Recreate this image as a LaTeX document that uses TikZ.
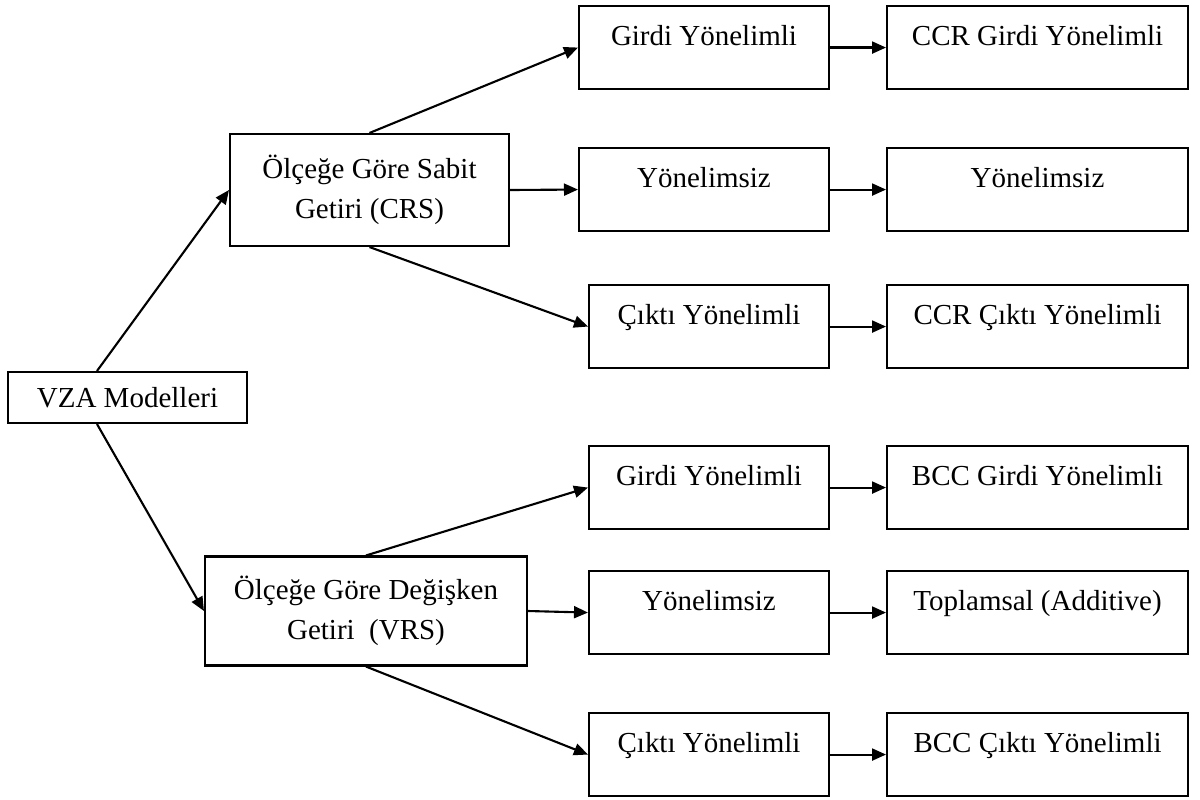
\documentclass[tikz,border=0pt]{standalone}
\usepackage{fontspec}
\setmainfont{Liberation Serif}
\usetikzlibrary{arrows.meta,positioning}
\tikzset{
  rootbox/.style={rectangle, draw=black, line width=1.2pt, align=center, inner sep=0pt, minimum width=4.78cm, minimum height=1.02cm},
  groupbox/.style={rectangle, draw=black, line width=1.2pt, align=center, inner sep=0pt},
  kindbox/.style={rectangle, draw=black, line width=1.2pt, align=flush center, inner sep=0pt, text width=4.8cm, text height=0.78cm, text depth=0.88cm, anchor=north},
  modelbox/.style={kindbox, text width=6.02cm},
  linkarrow/.style={-{Triangle[length=0.28cm,width=0.24cm]}, line width=1.2pt}
}
\begin{document}
\begin{tikzpicture}[x=0.02cm, y=-0.02cm, node distance=1.12cm, font=\fontsize{16.5}{22.8}\selectfont]
\useasboundingbox (0,0) rectangle (1200,799);
\node[rootbox] (vza) at (127.5,397.5) {VZA Modelleri};
\node[groupbox, minimum width=5.58cm, minimum height=2.24cm] (crs) at (369.5,190) {Ölçeğe Göre Sabit\\Getiri (CRS)};
\node[groupbox, minimum width=6.44cm, minimum height=2.18cm] (vrs) at (366,611) {Ölçeğe Göre Değişken\\Getiri\ \ (VRS)};
% orientation boxes
\node[kindbox, text width=5cm] (crsin) at (704,5) {Girdi Yönelimli};
\node[kindbox, text width=5cm] (crsno) at (704,147) {Yönelimsiz};
\node[kindbox] (crsout) at (709,284) {Çıktı Yönelimli};
\node[kindbox] (vrsin) at (709,445) {Girdi Yönelimli};
\node[kindbox] (vrsno) at (709,570) {Yönelimsiz};
\node[kindbox] (vrsout) at (709,712) {Çıktı Yönelimli};
% model boxes
\node[modelbox, right=of crsin] (ccrin) {CCR Girdi Yönelimli};
\node[modelbox, right=of crsno] (crsnomod) {Yönelimsiz};
\node[modelbox, right=of crsout] (ccrout) {CCR Çıktı Yönelimli};
\node[modelbox, right=of vrsin] (bccin) {BCC Girdi Yönelimli};
\node[modelbox, right=of vrsno] (additive) {Toplamsal (Additive)};
\node[modelbox, right=of vrsout] (bccout) {BCC Çıktı Yönelimli};
\draw[linkarrow] ([xshift=-0.61cm]vza.north) -- (crs.west);
\draw[linkarrow] ([xshift=-0.61cm]vza.south) -- (vrs.west);
\draw[linkarrow] (crs.north) -- (crsin.west);
\draw[linkarrow] (crs.east) -- (crsno.west);
\draw[linkarrow] (crs.south) -- (crsout.west);
\draw[linkarrow] (vrs.north) -- (vrsin.west);
\draw[linkarrow] (vrs.east) -- (vrsno.west);
\draw[linkarrow] (vrs.south) -- (vrsout.west);
\draw[linkarrow] (crsin) -- (ccrin);
\draw[linkarrow] (crsno) -- (crsnomod);
\draw[linkarrow] (crsout) -- (ccrout);
\draw[linkarrow] (vrsin) -- (bccin);
\draw[linkarrow] (vrsno) -- (additive);
\draw[linkarrow] (vrsout) -- (bccout);
\end{tikzpicture}
\end{document}
